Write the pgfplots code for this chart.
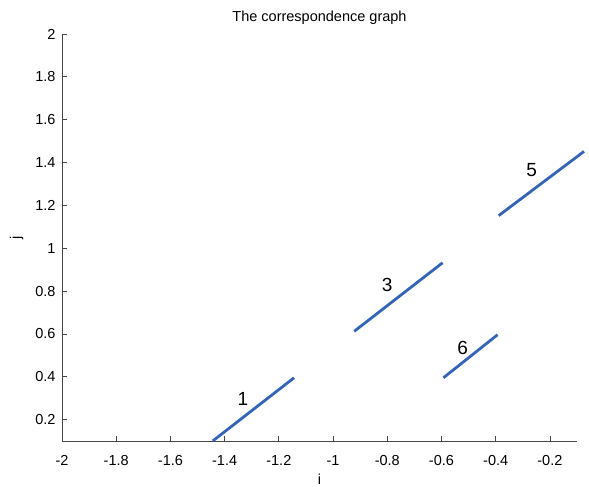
\documentclass[border=0pt]{standalone}
\usepackage{fontspec}
\setmainfont{Liberation Sans}
\usepackage{pgfplots}
\pgfplotsset{compat=1.18}
\definecolor{lineblue}{RGB}{52,100,180}
\definecolor{axgray}{RGB}{70,70,70}
\begin{document}
\begin{tikzpicture}
\begin{axis}[
  scale only axis,
  width=515pt, height=407pt,
  xmin=-2, xmax=-0.1, ymin=0.1, ymax=2,
  axis x line*=bottom, axis y line*=left,
  axis line style={axgray, line width=0.7pt},
  tick align=inside,
  major tick length=5pt,
  tick style={axgray, line width=0.7pt},
  xtick={-2,-1.8,...,-0.2},
  ytick={0.2,0.4,...,2.0},
  xticklabels={-2,-1.8,-1.6,-1.4,-1.2,-1,-0.8,-0.6,-0.4,-0.2},
  yticklabels={0.2,0.4,0.6,0.8,1,1.2,1.4,1.6,1.8,2},
  tick label style={font=\fontsize{14.5}{17}\selectfont},
  yticklabel style={xshift=-3pt},
  xticklabel style={yshift=-11pt},
  /pgf/number format/assume math mode=true,
  xlabel={i}, ylabel={j},
  label style={font=\fontsize{14.5}{17}\selectfont},
  xlabel style={yshift=-1pt},
  ylabel style={yshift=5pt},
  title={The correspondence graph},
  title style={font=\fontsize{14.5}{17}\selectfont, yshift=0pt},
  clip=false,
]
\addplot[lineblue, line width=2.8pt] coordinates {(-1.444,0.10) (-1.144,0.395)};
\addplot[lineblue, line width=2.8pt] coordinates {(-0.922,0.612) (-0.596,0.932)};
\addplot[lineblue, line width=2.8pt] coordinates {(-0.389,1.152) (-0.074,1.452)};
\addplot[lineblue, line width=2.8pt] coordinates {(-0.593,0.395) (-0.393,0.596)};
\node[font=\fontsize{19}{22}\selectfont] at (axis cs:-1.333,0.298) {1};
\node[font=\fontsize{19}{22}\selectfont] at (axis cs:-0.8,0.828) {3};
\node[font=\fontsize{19}{22}\selectfont] at (axis cs:-0.267,1.367) {5};
\node[font=\fontsize{19}{22}\selectfont] at (axis cs:-0.522,0.533) {6};
\end{axis}
\path (current axis.south west) ++(-62pt,-46pt) coordinate (bbA);
\path (current axis.north east) ++(12pt,34pt) coordinate (bbB);
\pgfresetboundingbox
\useasboundingbox (bbA) rectangle (bbB);
\end{tikzpicture}
\end{document}
